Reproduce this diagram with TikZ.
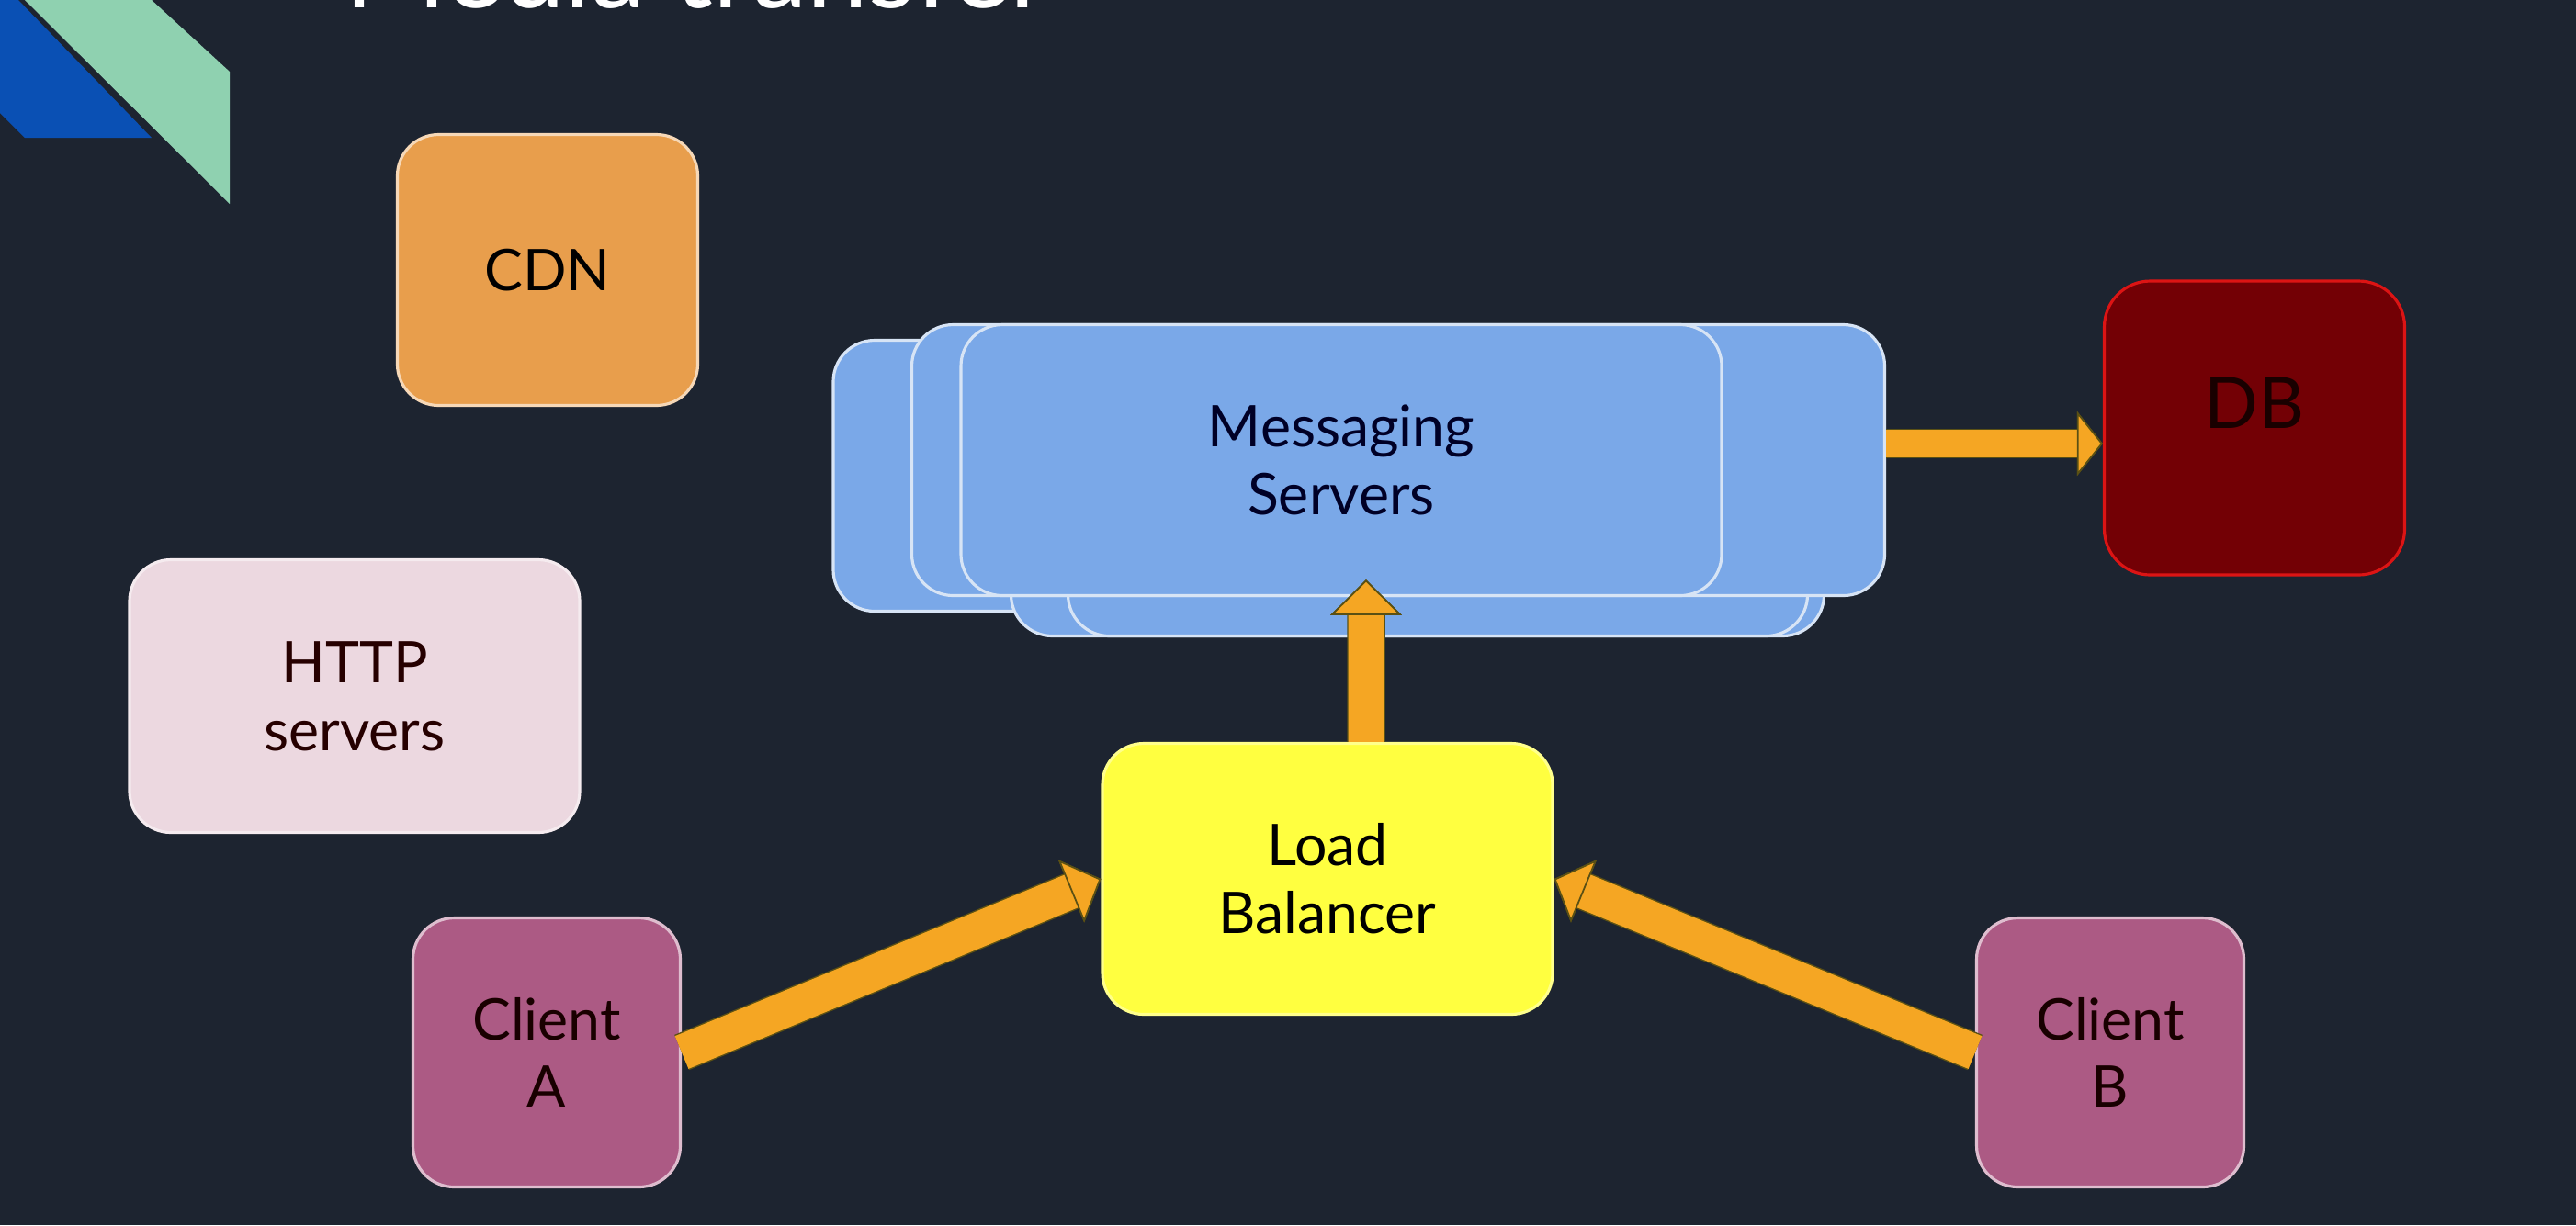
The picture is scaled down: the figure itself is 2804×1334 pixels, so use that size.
\documentclass[tikz,border=0pt]{standalone}
\usepackage{fontspec}
\setmainfont{Lato}
\usetikzlibrary{arrows.meta}

\definecolor{bgnavy}{RGB}{29,36,48}
\definecolor{decoblue}{RGB}{10,80,180}
\definecolor{decogreen}{RGB}{143,209,176}
\definecolor{arroworange}{RGB}{245,166,35}
\definecolor{arrowedge}{RGB}{90,80,20}
\definecolor{cdnfill}{RGB}{232,158,76}
\definecolor{httpfill}{RGB}{236,216,224}
\definecolor{clientfill}{RGB}{172,90,132}
\definecolor{lbfill}{RGB}{255,255,64}
\definecolor{dbfill}{RGB}{115,0,5}
\definecolor{dbedge}{RGB}{220,20,20}
\definecolor{msgfill}{RGB}{122,168,232}
\definecolor{msgedge}{RGB}{215,228,245}

\tikzset{
  box/.style={rectangle, rounded corners=4.5mm, inner sep=0pt, align=center,
    line width=0.9pt, font=\fontsize{17.8}{21}\selectfont},
  msbox/.style={box, fill=msgfill, draw=msgedge, text=black!85!blue},
  fatarrow/.style={draw=arroworange, line width=#1,
    preaction={draw=arrowedge, line width=#1+0.8pt}},
}

\begin{document}
\begin{tikzpicture}[x=0.1mm, y=-0.1mm]
    \useasboundingbox (0,0) rectangle (2804,1334);
    \clip (0,0) rectangle (2804,1334);
    \fill[bgnavy] (0,0) rectangle (2804,1334);
    % corner logo
    \fill[decoblue] (0,0) -- (20,0) -- (165,150) -- (27,150) -- (0,123) -- cycle;
    \fill[decogreen] (27,0) -- (165,0) -- (250,78) -- (250,222) -- cycle;
    \node[anchor=base west, inner sep=0pt, text=white, font=\fontsize{34}{40}\selectfont] (title) at (375,8) {Media transfer};

    \node[box, fill=cdnfill, draw=cdnfill!40!white, minimum width=32.7mm, minimum height=29.5mm] (CDN) at (596,294) {CDN};
    \node[box, fill=httpfill, draw=httpfill!50!white, text=black!85!red, minimum width=49mm, minimum height=29.7mm] (HTTP) at (386,758) {HTTP\\servers};

    \node[box, fill=clientfill, draw=clientfill!40!white, text=black!90!red, minimum width=29.1mm, minimum height=29.3mm] (CA) at (595,1146) {Client\\A};
    \node[box, fill=clientfill, draw=clientfill!40!white, text=black!90!red, minimum width=29.1mm, minimum height=29.3mm] (CB) at (2297,1146) {Client\\B};

    \node[box, fill=lbfill, draw=lbfill!60!white, minimum width=49mm, minimum height=29.5mm] (LB) at (1445,957) {Load\\Balancer};

    \node[box, rounded corners=5mm, fill=dbfill, draw=dbedge, minimum width=32.7mm, minimum height=32mm,
      label={[yshift=2.7mm, font=\fontsize{22}{26}\selectfont, text=black!90!red]center:DB}] (DB) at (2454,466) {};

    % messaging stack
    \node[msbox, minimum width=70.2mm, minimum height=29.5mm] (MSa) at (1258,518) {};
    \node[msbox, minimum width=88.5mm, minimum height=28.3mm] (MSd) at (1543,551) {};
    \node[msbox, minimum width=80.5mm, minimum height=28.3mm] (MSe) at (1565,551) {};
    \node[msbox, minimum width=105.9mm, minimum height=29.5mm] (MSb) at (1522,501) {};
    \node[msbox, minimum width=82.8mm, minimum height=29.5mm] (MS) at (1460,501) {Messaging\\Servers};

    \draw[fatarrow=11pt, -{Triangle[length=10pt, width=21pt, fill=arroworange, color=arrowedge, line width=0.5pt]}] (CA.east) -- (LB.west);
    \draw[fatarrow=11pt, -{Triangle[length=10pt, width=21pt, fill=arroworange, color=arrowedge, line width=0.5pt]}] (CB.west) -- (LB.east);
    \draw[fatarrow=11pt, -{Triangle[length=11pt, width=22pt, fill=arroworange, color=arrowedge, line width=0.5pt]}, shorten >=-1.9mm] ([xshift=4.2mm]LB.north) -- ([xshift=2.7mm]MS.south);
    \draw[fatarrow=8.5pt, -{Triangle[length=8pt, width=20pt, fill=arroworange, color=arrowedge, line width=0.5pt]}] ([yshift=1.8mm]MSb.east) -- ([yshift=1.8mm]MSb.east -| DB.west);
\end{tikzpicture}
\end{document}
